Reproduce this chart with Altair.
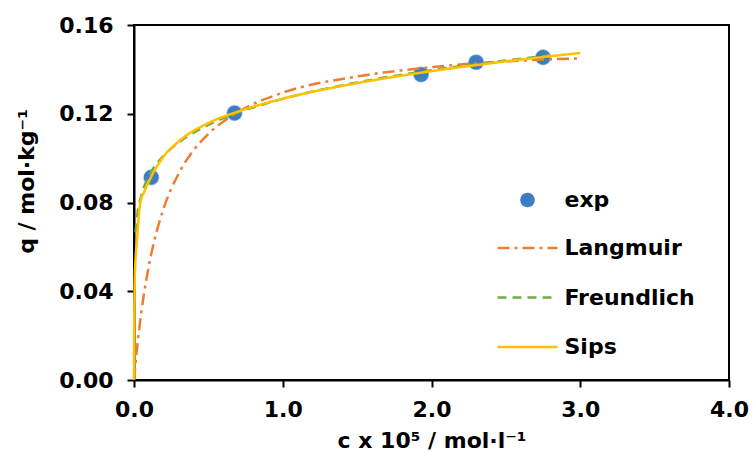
import altair as alt
import pandas as pd

# ---- data ----
exp_c = [0.116, 0.676, 1.93, 2.30, 2.75]
exp_q = [0.0913, 0.1203, 0.1377, 0.1432, 0.1454]

lang_c = [0, 0.01, 0.02, 0.05, 0.1, 0.15, 0.2, 0.3, 0.4, 0.5, 0.7, 1.0, 1.5, 2.0, 2.5, 3.0]
lang_q = [0, 0.0073, 0.0140, 0.0309, 0.0516, 0.0663, 0.0775, 0.0930, 0.1035, 0.1109,
          0.1208, 0.1295, 0.1368, 0.1410, 0.1436, 0.1450]

fr_c = [0.01, 0.02, 0.05, 0.1, 0.2, 0.3, 0.5, 0.7, 1.0, 1.5, 2.0, 2.5, 2.8]
fr_q = [0.0665, 0.0733, 0.0833, 0.0918, 0.1011, 0.1070, 0.1150, 0.1205, 0.1267,
        0.1341, 0.1396, 0.1440, 0.1464]

sips_c = [0, 0.0005, 0.002, 0.005, 0.01, 0.02, 0.04, 0.07, 0.1, 0.15, 0.2, 0.3, 0.5,
          0.7, 1.0, 1.5, 2.0, 2.5, 3.0]
sips_q = [0, 0.012, 0.030, 0.045, 0.054, 0.063, 0.079, 0.085, 0.0895, 0.0958, 0.1008,
          0.1075, 0.1158, 0.1210, 0.1268, 0.1338, 0.1392, 0.1436, 0.1474]

models = ["Langmuir", "Freundlich", "Sips"]
model_colors = ["#ED7D31", "#70AD47", "#FFC000"]
model_dash = [[12, 5, 3, 5], [9, 6], [1, 0]]
model_width = [2.5, 2.5, 3]

x_ticks = [0, 1, 2, 3, 4]
y_ticks = [0, 0.04, 0.08, 0.12, 0.16]

FONT = "DejaVu Sans"

pts = pd.DataFrame({"c": exp_c, "q": exp_q, "sample": ["exp"] * len(exp_c)})
ldf = pd.concat([
    pd.DataFrame({"c": lang_c, "q": lang_q, "model": "Langmuir"}),
    pd.DataFrame({"c": fr_c, "q": fr_q, "model": "Freundlich"}),
    pd.DataFrame({"c": sips_c, "q": sips_q, "model": "Sips"}),
], ignore_index=True)

x_enc = alt.X("c:Q", scale=alt.Scale(domain=[0, 4], nice=False),
              axis=alt.Axis(values=x_ticks, format=".1f", title="c x 10⁵ / mol·l⁻¹",
                            titleY=67, titleBaseline="alphabetic", labelPadding=12,
                            labelFlush=False))
y_enc = alt.Y("q:Q", scale=alt.Scale(domain=[0, 0.16], nice=False),
              axis=alt.Axis(values=y_ticks, format=".2f", title="q / mol·kg⁻¹",
                            titleX=-100.5, titleY=156, titleBaseline="alphabetic",
                            labelPadding=14, labelFlush=False))

points = alt.Chart(pts).mark_circle(size=215, opacity=1, stroke="#3D7DC2",
                                    strokeWidth=1.5, strokeOpacity=0.5).encode(
    x=x_enc, y=y_enc,
    fill=alt.Fill("sample:N", scale=alt.Scale(domain=["exp"], range=["#3D7DC2"]),
                  legend=alt.Legend(title=None, orient="none", legendX=382.5, legendY=163,
                                    clipHeight=24, labelOffset=26, symbolSize=215,
                                    symbolType="circle", symbolStrokeWidth=0))
)

line_legend = alt.Legend(title=None, orient="none", legendX=362, legendY=211,
                         clipHeight=24, rowPadding=25.5, labelOffset=5.5,
                         symbolType="stroke", symbolSize=3600, symbolStrokeWidth=2.5)

lines = alt.Chart(ldf).mark_line(interpolate="monotone").encode(
    x="c:Q", y="q:Q",
    color=alt.Color("model:N", scale=alt.Scale(domain=models, range=model_colors),
                    legend=line_legend),
    strokeDash=alt.StrokeDash("model:N", scale=alt.Scale(domain=models, range=model_dash),
                              legend=line_legend),
    strokeWidth=alt.StrokeWidth("model:N", scale=alt.Scale(domain=models, range=model_width),
                                legend=None),
)

chart = alt.layer(points, lines).properties(
    width=595, height=355,
    padding={"left": 134, "top": 25, "right": 24, "bottom": 88},
    autosize=alt.AutoSizeParams(type="none"),
    background="white",
).configure_view(stroke="black", strokeWidth=2).configure_axis(
    grid=False, domainColor="black", domainWidth=2, tickColor="black", tickWidth=2,
    tickSize=7, labelFont=FONT, labelFontSize=22, labelFontWeight="bold",
    labelColor="black", titleFont=FONT, titleFontSize=22, titleFontWeight="bold",
    titleColor="black",
).configure_legend(
    padding=0, labelFont=FONT, labelFontSize=22, labelFontWeight="bold", labelColor="black"
)

chart.save("out.html", embed_options={"renderer": "svg", "actions": False})
